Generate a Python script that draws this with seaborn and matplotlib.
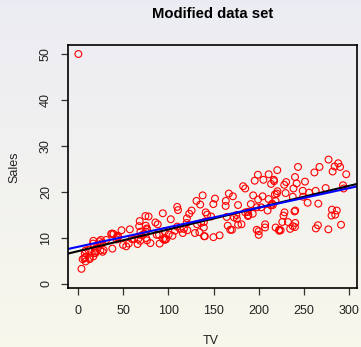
import numpy as np
import pandas as pd
import matplotlib
matplotlib.use("Agg")
import matplotlib.pyplot as plt
import seaborn as sns

# Advertising data: TV budget and Sales
tv = [230.1, 44.5, 17.2, 151.5, 180.8, 8.7, 57.5, 120.2, 8.6, 199.8,
      66.1, 214.7, 23.8, 97.5, 204.1, 195.4, 67.8, 281.4, 69.2, 147.3,
      218.4, 237.4, 13.2, 228.3, 62.3, 262.9, 142.9, 240.1, 248.8, 70.6,
      292.9, 112.9, 97.2, 265.6, 95.7, 290.7, 266.9, 74.7, 43.1, 228.0,
      202.5, 177.0, 293.6, 206.9, 25.1, 175.1, 89.7, 239.9, 227.2, 66.9,
      199.8, 100.4, 216.4, 182.6, 262.7, 198.9, 7.3, 136.2, 210.8, 210.7,
      53.5, 261.3, 239.3, 102.7, 131.1, 69.0, 31.5, 139.3, 237.4, 216.8,
      199.1, 109.8, 26.8, 129.4, 213.4, 16.9, 27.5, 120.5, 5.4, 116.0,
      76.4, 239.8, 75.3, 68.4, 213.5, 193.2, 76.3, 110.7, 88.3, 109.8,
      134.3, 28.6, 217.7, 250.9, 107.4, 163.3, 197.6, 184.9, 289.7, 135.2,
      222.4, 296.4, 280.2, 187.9, 238.2, 137.9, 25.0, 90.4, 13.1, 255.4,
      225.8, 241.7, 175.7, 209.6, 78.2, 75.1, 139.2, 76.4, 125.7, 19.4,
      141.3, 18.8, 224.0, 123.1, 229.5, 87.2, 7.8, 80.2, 220.3, 59.6,
      0.7, 265.2, 8.4, 219.8, 36.9, 48.3, 25.6, 273.7, 43.0, 184.9,
      73.4, 193.7, 220.5, 104.6, 96.2, 140.3, 240.1, 243.2, 38.0, 44.7,
      280.7, 121.0, 197.6, 171.3, 187.8, 4.1, 93.9, 149.8, 11.7, 131.7,
      172.5, 85.7, 188.4, 163.5, 117.2, 234.5, 17.9, 206.8, 215.4, 284.3,
      50.0, 164.5, 19.6, 168.4, 222.4, 276.9, 248.4, 170.2, 276.7, 165.6,
      156.6, 218.5, 56.2, 287.6, 253.8, 205.0, 139.5, 191.1, 286.0, 18.7,
      39.5, 75.5, 17.2, 166.8, 149.7, 38.2, 94.2, 177.0, 283.6, 232.1]
sales = [22.1, 10.4, 9.3, 18.5, 12.9, 7.2, 11.8, 13.2, 4.8, 10.6,
         8.6, 17.4, 9.2, 9.7, 19.0, 22.4, 12.5, 24.4, 11.3, 14.6,
         18.0, 12.5, 5.6, 15.5, 9.7, 12.0, 15.0, 15.9, 18.9, 10.5,
         21.4, 11.9, 9.6, 17.4, 9.5, 12.8, 25.4, 14.7, 10.1, 21.5,
         16.6, 17.1, 20.7, 12.9, 8.5, 14.9, 10.6, 23.2, 14.8, 9.7,
         11.4, 10.7, 22.6, 21.2, 20.2, 23.7, 5.5, 13.2, 23.8, 18.4,
         8.1, 24.2, 15.7, 14.0, 18.0, 9.3, 9.5, 13.4, 18.9, 22.3,
         18.3, 12.4, 8.8, 11.0, 17.0, 8.7, 6.9, 14.2, 5.3, 11.0,
         11.8, 12.3, 11.3, 13.6, 21.7, 15.2, 12.0, 16.0, 12.9, 16.7,
         11.2, 7.3, 19.4, 22.2, 11.5, 16.9, 11.7, 15.5, 25.4, 17.2,
         11.7, 23.8, 14.8, 14.7, 20.7, 19.2, 7.2, 8.7, 5.3, 19.8,
         13.4, 21.8, 14.1, 15.9, 14.6, 12.6, 12.2, 9.4, 15.9, 6.6,
         15.5, 7.0, 11.6, 15.2, 19.7, 10.6, 6.6, 8.8, 24.7, 9.7,
         1.6, 12.7, 5.7, 19.6, 10.8, 11.6, 9.5, 20.8, 9.6, 20.7,
         10.9, 19.2, 20.1, 10.4, 11.4, 10.3, 13.2, 25.4, 10.9, 10.1,
         16.1, 11.6, 16.6, 19.0, 15.6, 3.2, 15.3, 10.1, 7.3, 12.9,
         14.4, 13.3, 14.9, 18.0, 11.9, 11.9, 8.0, 12.2, 17.1, 15.0,
         8.4, 14.5, 7.6, 11.7, 11.5, 27.0, 20.2, 11.7, 11.8, 12.6,
         10.5, 12.2, 8.7, 26.2, 17.6, 22.6, 10.3, 17.3, 15.9, 6.7,
         10.8, 9.9, 5.9, 19.6, 17.3, 7.6, 9.7, 12.8, 25.5, 13.4]
modified_index = 130
modified_sales_value = 50.0

title = "Modified data set"
xticks = [0, 50, 100, 150, 200, 250, 300]
yticks = [0, 10, 20, 30, 40, 50]

orig = pd.DataFrame({"TV": tv, "Sales": sales})
mod = orig.copy()
mod.loc[modified_index, "Sales"] = modified_sales_value

FONT = "Liberation Sans"
W, H = 361, 347
fig = plt.figure(figsize=(W / 100, H / 100), dpi=100)

# gradient background
bg = fig.add_axes([0, 0, 1, 1], zorder=-10)
top = np.array([0.925, 0.925, 0.955])
bot = np.array([0.972, 0.970, 0.925])
t = np.linspace(0, 1, 256)[:, None]
grad = (top[None, :] * (1 - t) + bot[None, :] * t)[:, None, :]
bg.imshow(grad, aspect="auto", extent=[0, 1, 0, 1])
bg.set_axis_off()

ax = fig.add_axes([67.7 / W, 1 - 287.5 / H, (356.7 - 67.7) / W, (287.5 - 44.7) / H])
ax.patch.set_alpha(0)

sns.scatterplot(data=mod, x="TV", y="Sales", ax=ax, marker="o", s=24,
                facecolors="none", edgecolor="red", linewidth=0.8, legend=False)

b_orig = np.polyfit(orig["TV"], orig["Sales"], 1)
b_mod = np.polyfit(mod["TV"], mod["Sales"], 1)
ax.axline((0, b_orig[1]), slope=b_orig[0], color="black", lw=1.5)
ax.axline((0, b_mod[1]), slope=b_mod[0], color="blue", lw=1.5)

ax.set_xlim(-11.1, 308.0)
ax.set_ylim(-0.87, 52.03)
ax.set_xticks(xticks)
ax.set_yticks(yticks)
ax.set_xticklabels([str(v) for v in xticks], fontfamily=FONT, fontsize=9,
                   color="#222222")
ax.set_yticklabels([str(v) for v in yticks], fontfamily=FONT, fontsize=9,
                   rotation=90, va="center", color="#222222")
ax.tick_params(axis="x", length=5.3, width=0.9, color="#333333", pad=7.5)
ax.tick_params(axis="y", length=5.3, width=0.9, color="#333333", pad=6)
for sp in ax.spines.values():
    sp.set_linewidth(1.2)
    sp.set_color("black")

xl = ax.set_xlabel("TV", fontfamily=FONT, fontsize=9, color="#222222")
yl = ax.set_ylabel("Sales", fontfamily=FONT, fontsize=9, color="#222222")
ax.xaxis.set_label_coords((211 - 67.7) / (356.7 - 67.7), (287.5 - 341) / (287.5 - 44.7))
ax.yaxis.set_label_coords((14 - 67.7) / (356.7 - 67.7), (287.5 - 167) / (287.5 - 44.7))
xl.set_verticalalignment("center")
yl.set_verticalalignment("center")

fig.text(212.5 / W, 1 - 14 / H, title, fontfamily=FONT, fontsize=10.7,
         fontweight="bold", ha="center", va="center")

fig.savefig("out.png", dpi=100)
